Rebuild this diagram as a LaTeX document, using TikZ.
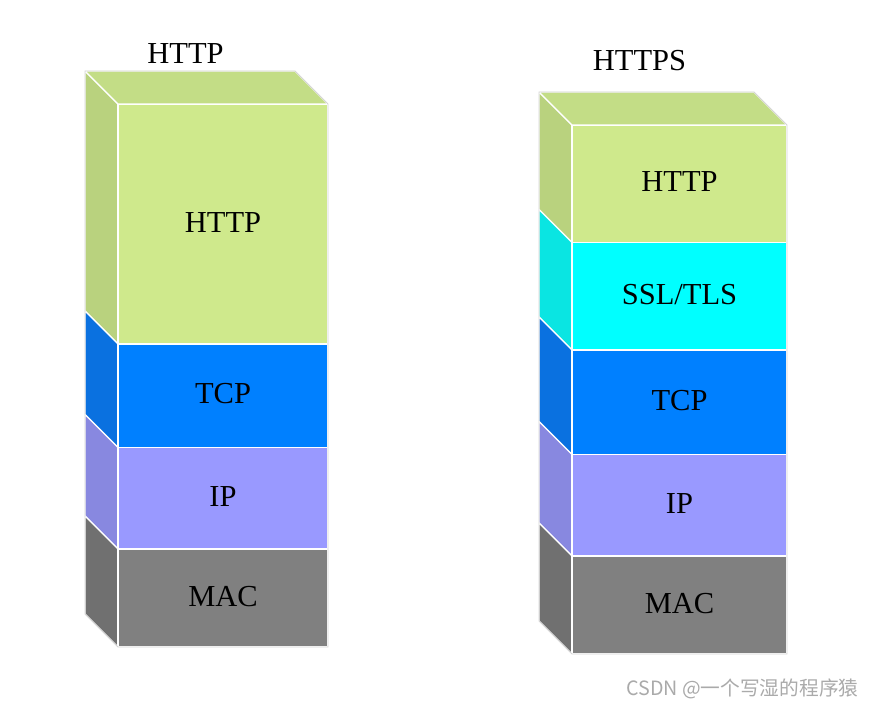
\documentclass[tikz,border=0pt]{standalone}
\usepackage{fontspec}
\setmainfont{Liberation Serif}
\newfontfamily\cjk{Noto Sans CJK SC}
\definecolor{httpF}{RGB}{207,233,140}
\definecolor{httpS}{RGB}{185,210,126}
\definecolor{httpT}{RGB}{195,221,134}
\definecolor{sslF}{RGB}{0,255,255}
\definecolor{sslS}{RGB}{10,229,226}
\definecolor{tcpF}{RGB}{0,128,255}
\definecolor{tcpS}{RGB}{10,113,224}
\definecolor{ipF}{RGB}{153,153,255}
\definecolor{ipS}{RGB}{136,136,224}
\definecolor{macF}{RGB}{128,128,128}
\definecolor{macS}{RGB}{112,112,112}
\definecolor{wmark}{RGB}{170,170,170}
\definecolor{rim}{RGB}{212,212,212}
% name, x0, width, ytop, ybot, front colour, side colour, text
\newcommand\stacklayer[8]{%
  \path[fill=#7,face] (#2-33,#4-33) -- (#2,#4) -- (#2,#5) -- (#2-33,#5-33) -- cycle;
  \path[fill=#6,face] (#2,#4) rectangle (#2+#3,#5);
  \node[lbl] (#1) at (#2+#3/2,{(#4+#5)/2+8}) {#8};}
% x0, width, ytop, ybot, top colour
\newcommand\stacktop[5]{%
  \path[fill=#5,face] (#1-33,#3-33) -- (#1+#2-33,#3-33) -- (#1+#2,#3) -- (#1,#3) -- cycle;
  \draw[rim,line width=0.8pt] (#1-33,#3-33) -- (#1+#2-33,#3-33) -- (#1+#2,#3) -- (#1+#2,#4) -- (#1,#4) -- (#1-33,#4-33) -- cycle;}
\begin{document}
\begin{tikzpicture}[x=1pt,y=-1pt,
  face/.style={draw=white,line width=1.3pt,line join=round},
  lbl/.style={font=\fontsize{30.5}{36}\selectfont,inner sep=0pt,anchor=base}]
\useasboundingbox (0,0) rectangle (872,706);
% left stack
\stacklayer{lhttp}{118}{210}{104}{344}{httpF}{httpS}{HTTP}
\stacklayer{ltcp}{118}{210}{344}{447.5}{tcpF}{tcpS}{TCP}
\stacklayer{lip}{118}{210}{447.5}{549}{ipF}{ipS}{IP}
\stacklayer{lmac}{118}{210}{549}{647}{macF}{macS}{MAC}
\stacktop{118}{210}{104}{647}{httpT}
% right stack
\stacklayer{rhttp}{572}{215}{125}{242.5}{httpF}{httpS}{HTTP}
\stacklayer{rssl}{572}{215}{242.5}{350}{sslF}{sslS}{SSL/TLS}
\stacklayer{rtcp}{572}{215}{350}{454.5}{tcpF}{tcpS}{TCP}
\stacklayer{rip}{572}{215}{454.5}{556}{ipF}{ipS}{IP}
\stacklayer{rmac}{572}{215}{556}{654}{macF}{macS}{MAC}
\stacktop{572}{215}{125}{654}{httpT}
% titles
\node[lbl] (ltitle) at (185.5,64) {HTTP};
\node[lbl] (rtitle) at (639.5,71) {HTTPS};
% watermark
\node[font=\cjk\fontsize{19.7}{21}\selectfont,text=wmark,anchor=base west,inner sep=0pt] (wm) at (626,695) {CSDN @一个写湿的程序猿};
\end{tikzpicture}
\end{document}
